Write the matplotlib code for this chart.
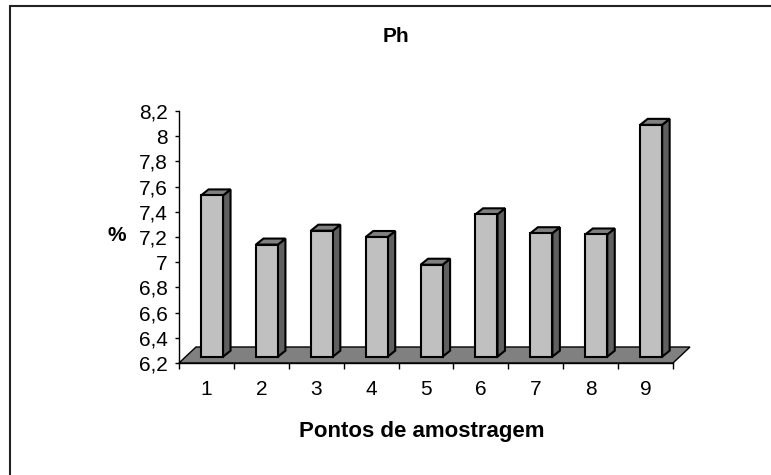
import matplotlib

matplotlib.use("Agg")
import matplotlib.pyplot as plt
import numpy as np
from matplotlib.patches import Polygon, Rectangle

# valores
pontos = [1, 2, 3, 4, 5, 6, 7, 8, 9]
ph = [7.48, 7.09, 7.20, 7.15, 6.93, 7.33, 7.18, 7.17, 8.04]
y_ticks = [6.2, 6.4, 6.6, 6.8, 7.0, 7.2, 7.4, 7.6, 7.8, 8.0, 8.2]
y_labels = ["6,2", "6,4", "6,6", "6,8", "7", "7,2", "7,4", "7,6", "7,8", "8", "8,2"]

W, H = 771, 475
plt.rcParams["font.family"] = ["Liberation Sans", "DejaVu Sans"]

fig = plt.figure(figsize=(W / 100, H / 100), dpi=100)
fig.patch.set_facecolor("white")

# axes box in pixels (front plane of the 3d chart)
ax_l, ax_r, ax_t, ax_b = 179, 673, 111, 363
ax = fig.add_axes([ax_l / W, 1 - ax_b / H, (ax_r - ax_l) / W, (ax_b - ax_t) / H])
ax.set_xlim(0.5, len(pontos) + 0.5)
ax.set_ylim(y_ticks[0], y_ticks[-1])
ax.patch.set_alpha(0)

# pixel -> data helpers for the fake depth
px_x = (ax_r - ax_l) / len(pontos)
px_y = (ax_b - ax_t) / (y_ticks[-1] - y_ticks[0])


def dx(p):
    return p / px_x


def dy(p):
    return p / px_y


base = y_ticks[0]

# floor
floor = Polygon(
    [(0.5, base), (len(pontos) + 0.5, base),
     (len(pontos) + 0.5 + dx(17), base + dy(16)), (0.5 + dx(17), base + dy(16))],
    closed=True, facecolor="#808080", edgecolor="black", lw=1.0, clip_on=False, zorder=1)
ax.add_patch(floor)

# bars
bw = dx(22)
ox, oy = dx(5.6), dy(6.3)
ddx, ddy = dx(7.5), dy(6)
for p, v in zip(pontos, ph):
    x0 = p - bw / 2 + ox
    x1 = x0 + bw
    y0 = base + oy
    top = v + oy
    side = Polygon([(x1, y0), (x1 + ddx, y0 + ddy), (x1 + ddx, top + ddy), (x1, top)],
                   closed=True, facecolor="#606060", edgecolor="black", lw=1.5,
                   clip_on=False, zorder=3, joinstyle="miter")
    cap = Polygon([(x0, top), (x1, top), (x1 + ddx, top + ddy), (x0 + ddx, top + ddy)],
                  closed=True, facecolor="#808080", edgecolor="black", lw=1.5,
                  clip_on=False, zorder=3, joinstyle="miter")
    front = Rectangle((x0, y0), bw, v - base, facecolor="#C0C0C0", edgecolor="black",
                      lw=1.5, clip_on=False, zorder=4, joinstyle="miter")
    ax.add_patch(side)
    ax.add_patch(cap)
    ax.add_patch(front)

# axes styling
for s in ["top", "right"]:
    ax.spines[s].set_visible(False)
for s in ["left", "bottom"]:
    ax.spines[s].set_color("black")
    ax.spines[s].set_linewidth(1.0)
    ax.spines[s].set_zorder(2)

ax.set_yticks(y_ticks)
ax.set_yticklabels(y_labels)
ax.set_xticks(pontos)
ax.set_xticklabels([str(p) for p in pontos])
ax.set_xticks(np.arange(0.5, len(pontos) + 1, 1.0), minor=True)
ax.tick_params(axis="y", direction="out", length=3, width=1, pad=5, labelsize=15)
ax.tick_params(axis="x", which="major", length=0, pad=12, labelsize=15)
ax.tick_params(axis="x", which="minor", direction="out", length=4, width=1)

ax.set_ylabel("%", rotation=0, fontsize=15, fontweight="bold", va="center", ha="center")
ax.yaxis.set_label_coords((116.5 - ax_l) / (ax_r - ax_l), (ax_b - 236) / (ax_b - ax_t))
ax.set_xlabel("Pontos de amostragem", fontsize=16, fontweight="bold", va="center")
ax.xaxis.set_label_coords((421.7 - ax_l) / (ax_r - ax_l), (ax_b - 431) / (ax_b - ax_t))

fig.text(396 / W, 1 - 36 / H, "Ph", fontsize=15, fontweight="bold", ha="center", va="center")

# chart area border (runs off the right/bottom edges)
fig.patches.append(Rectangle((10 / W, -0.1), 1.1, 1 - 6 / H + 0.1, transform=fig.transFigure,
                             fill=False, edgecolor="#222222", lw=1.5))

fig.savefig("out.png", dpi=100)
